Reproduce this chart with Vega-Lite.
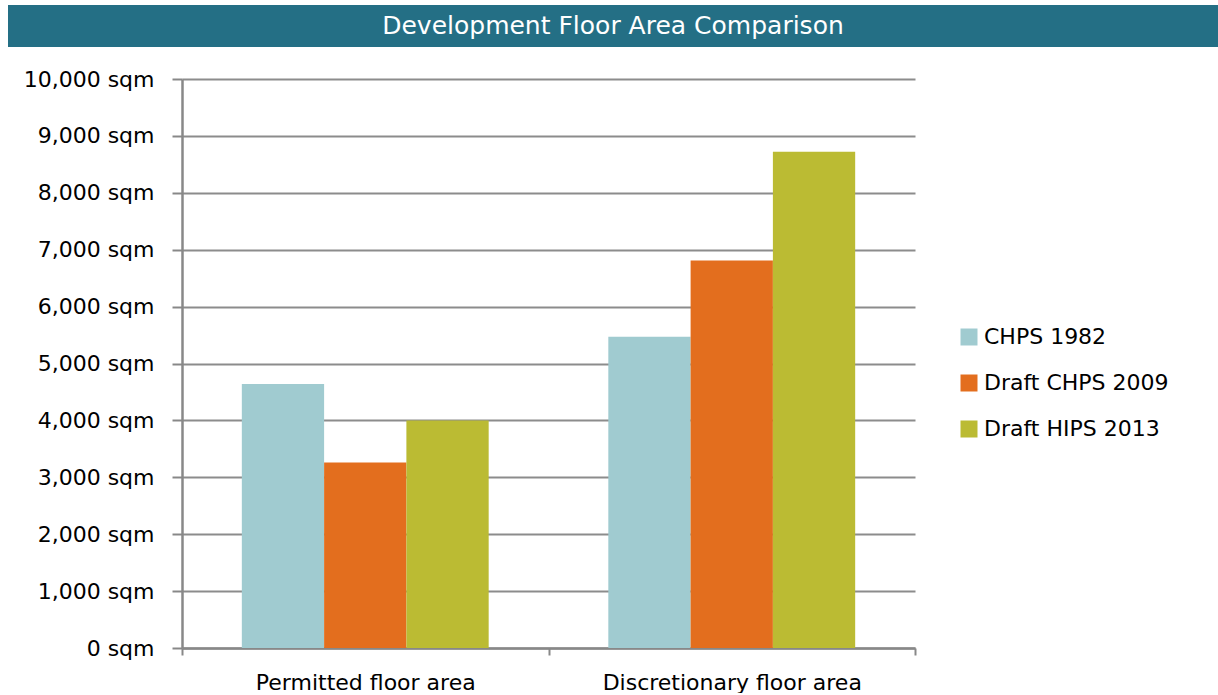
{
  "$schema": "https://vega.github.io/schema/vega-lite/v6.json",
  "padding": {"left": 8, "top": 5, "right": 0, "bottom": 0},
  "background": "white",
  "config": {
    "font": "DejaVu Sans",
    "view": {"stroke": null},
    "concat": {"spacing": 21}
  },
  "vconcat": [
    {
      "width": 1036,
      "height": 42,
      "data": {"values": [{"x0": 0, "x1": 1, "xm": 0.5, "title": "Development Floor Area Comparison"}]},
      "layer": [
        {
          "mark": {"type": "rect", "color": "#246F85"},
          "encoding": {
            "x": {"field": "x0", "type": "quantitative", "scale": {"domain": [0.1438, 1], "nice": false, "zero": false}, "axis": null},
            "x2": {"field": "x1"}
          }
        },
        {
          "mark": {"type": "text", "color": "white", "fontSize": 25, "baseline": "middle", "align": "center"},
          "encoding": {
            "x": {"field": "xm", "type": "quantitative", "scale": {"domain": [0.1438, 1], "nice": false, "zero": false}, "axis": null},
            "text": {"field": "title", "type": "nominal"}
          }
        }
      ]
    },
    {
      "width": 733,
      "height": 569,
      "data": {
        "values": [
          {"area": "Permitted floor area", "plan": "CHPS 1982", "value": 4640},
          {"area": "Permitted floor area", "plan": "Draft CHPS 2009", "value": 3260},
          {"area": "Permitted floor area", "plan": "Draft HIPS 2013", "value": 4000},
          {"area": "Discretionary floor area", "plan": "CHPS 1982", "value": 5470},
          {"area": "Discretionary floor area", "plan": "Draft CHPS 2009", "value": 6810},
          {"area": "Discretionary floor area", "plan": "Draft HIPS 2013", "value": 8720}
        ]
      },
      "mark": {"type": "bar"},
      "encoding": {
        "x": {
          "field": "area",
          "type": "nominal",
          "sort": ["Permitted floor area", "Discretionary floor area"],
          "scale": {"paddingInner": 0, "paddingOuter": 0},
          "axis": {
            "title": null,
            "labelAngle": 0,
            "labelFontSize": 22,
            "labelColor": "#000000",
            "labelPadding": 17,
            "labelLimit": 0,
            "tickBand": "extent",
            "tickSize": 7,
            "tickColor": "#888888",
            "tickWidth": 2,
            "domainColor": "#888888",
            "domainWidth": 2.5,
            "grid": false
          }
        },
        "xOffset": {
          "field": "plan",
          "type": "nominal",
          "sort": ["CHPS 1982", "Draft CHPS 2009", "Draft HIPS 2013"],
          "scale": {"paddingInner": 0, "paddingOuter": 0.727}
        },
        "y": {
          "field": "value",
          "type": "quantitative",
          "scale": {"domain": [0, 10000], "nice": false},
          "axis": {
            "title": null,
            "values": [0, 1000, 2000, 3000, 4000, 5000, 6000, 7000, 8000, 9000, 10000],
            "labelExpr": "format(datum.value, ',') + ' sqm'",
            "labelFontSize": 22,
            "labelColor": "#000000",
            "labelPadding": 18,
            "tickSize": 10,
            "tickColor": "#888888",
            "tickWidth": 2,
            "domainColor": "#888888",
            "domainWidth": 2.5,
            "gridColor": "#8c8c8c",
            "gridWidth": 2,
            "minExtent": 174
          }
        },
        "color": {
          "field": "plan",
          "type": "nominal",
          "sort": ["CHPS 1982", "Draft CHPS 2009", "Draft HIPS 2013"],
          "scale": {"range": ["#A0CBD0", "#E36E1E", "#BBBB33"]},
          "legend": {
            "title": null,
            "orient": "none",
            "legendX": 776,
            "legendY": 321,
            "padding": 0,
            "symbolType": "square",
            "symbolSize": 289,
            "symbolStrokeWidth": 0,
            "labelFontSize": 22,
            "labelColor": "#000000",
            "labelOffset": 4,
            "labelLimit": 0,
            "rowPadding": 24
          }
        }
      }
    }
  ]
}
